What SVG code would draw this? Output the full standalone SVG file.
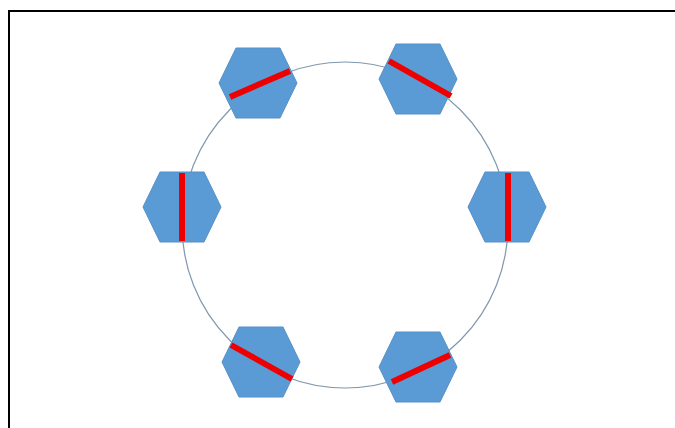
<svg xmlns="http://www.w3.org/2000/svg" width="675" height="428" viewBox="0 0 675 428">
<style>
.hex{fill:#5b9bd5;stroke:#5590c8;stroke-width:1}
.bar{stroke:#ee0000;stroke-width:6;stroke-linecap:butt;fill:none}
</style>
<defs>
<polygon id="hx" class="hex" points="-39,0 -22,-35 22,-35 39,0 22,35 -22,35"/>
</defs>
<rect width="675" height="428" fill="#fff"/>
<path d="M9,428 V11 H675" fill="none" stroke="#000" stroke-width="2"/>
<g id="connectors">
<circle cx="345" cy="225" r="163" fill="none" stroke="#7f97ad" stroke-width="1.2"/>
</g>
<g id="n1"><use href="#hx" x="258" y="83"/><line class="bar" x1="230" y1="97" x2="290" y2="71"/></g>
<g id="n2"><use href="#hx" x="418" y="79"/><line class="bar" x1="389" y1="61" x2="451" y2="96"/></g>
<g id="n3"><use href="#hx" x="182" y="207"/><line class="bar" x1="182" y1="173" x2="182" y2="241"/></g>
<g id="n4"><use href="#hx" x="507" y="207"/><line class="bar" x1="508" y1="173" x2="508" y2="241"/></g>
<g id="n5"><use href="#hx" x="261" y="362"/><line class="bar" x1="231" y1="345" x2="292" y2="379"/></g>
<g id="n6"><use href="#hx" x="418" y="367"/><line class="bar" x1="392" y1="382" x2="450" y2="355"/></g>
</svg>
